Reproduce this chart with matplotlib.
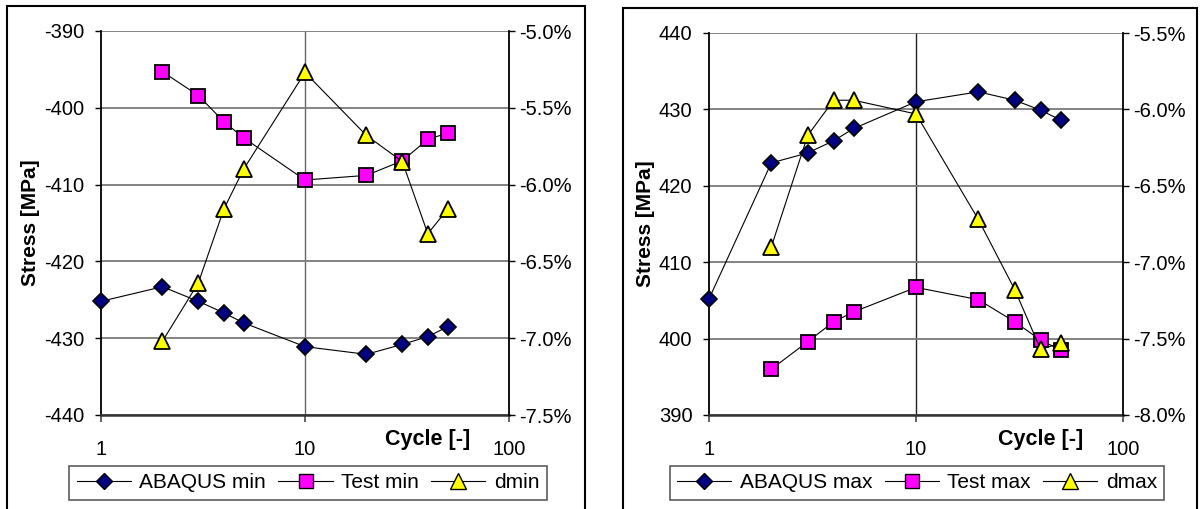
import numpy as np
import matplotlib
matplotlib.use('Agg')
import matplotlib.pyplot as plt
from matplotlib.ticker import FixedLocator, FuncFormatter
from matplotlib.lines import Line2D
from matplotlib.patches import Rectangle

plt.rcParams['font.family'] = ['Liberation Sans', 'DejaVu Sans']

# data
cycles = [1, 2, 3, 4, 5, 10, 20, 30, 40, 50]
cycles_test = [2, 3, 4, 5, 10, 20, 30, 40, 50]

abaqus_min = [-425.2, -423.3, -425.2, -426.7, -428.0, -431.1, -432.1, -430.8, -429.8, -428.5]
test_min = [-395.3, -398.4, -401.8, -403.9, -409.4, -408.8, -406.9, -404.1, -403.3]
d_min = [-7.02, -6.64, -6.16, -5.90, -5.27, -5.68, -5.85, -6.32, -6.16]

abaqus_max = [405.2, 423.0, 424.3, 425.9, 427.5, 431.0, 432.3, 431.2, 429.9, 428.6]
test_max = [396.0, 399.6, 402.2, 403.5, 406.7, 405.1, 402.2, 399.8, 398.5]
d_max = [-6.90, -6.17, -5.94, -5.94, -6.03, -6.72, -7.18, -7.57, -7.53]

W, H = 1203, 509


def draw_panel(fig, rect, ab, te, dd, ylim, yticks, plim, pticks, names, vcol, leg_x):
    ax = fig.add_axes(rect)
    ax.set_xscale('log')
    ax.set_xlim(1, 100)
    ax.set_ylim(*ylim)
    ax.yaxis.set_major_locator(FixedLocator(yticks))
    ax.xaxis.set_major_locator(FixedLocator([1, 10, 100]))
    ax.xaxis.set_minor_locator(FixedLocator([]))
    ax.xaxis.set_major_formatter(FuncFormatter(lambda v, p: '%d' % v))
    ax.yaxis.set_major_formatter(FuncFormatter(lambda v, p: '%d' % v))
    ax.grid(axis='y', color='#7a7a7a', linewidth=1.3)
    ax.axvline(10, color=vcol, linewidth=1.0, zorder=1)
    ax.tick_params(axis='y', direction='out', length=4, width=1, labelsize=14.5, pad=8)
    ax.tick_params(axis='x', direction='out', length=5, width=1.3, labelsize=14.5, pad=13,
                   color='#555555')
    ax.spines['top'].set_visible(False)
    ax.spines['right'].set_visible(False)
    ax.spines['left'].set_linewidth(1.3)
    ax.spines['bottom'].set_linewidth(1.8)
    ax.spines['bottom'].set_color('#333333')
    ax.set_ylabel('Stress [MPa]', fontsize=15, fontweight='bold', labelpad=3)
    ax.text(0.8, -0.065, 'Cycle [-]', transform=ax.transAxes, fontsize=15.5,
            fontweight='bold', ha='center', va='center')

    ax.plot(cycles, ab, color='black', linewidth=0.8, marker='D', markersize=8.5,
            markerfacecolor='#000080', markeredgecolor='black', markeredgewidth=1.2,
            zorder=3, clip_on=False)
    ax.plot(cycles_test, te, color='black', linewidth=0.8, marker='s', markersize=9.5,
            markerfacecolor='#ff00ff', markeredgecolor='black', markeredgewidth=1.3,
            zorder=3, clip_on=False)

    ax2 = ax.twinx()
    ax2.set_ylim(*plim)
    ax2.yaxis.set_major_locator(FixedLocator(pticks))
    ax2.yaxis.set_major_formatter(FuncFormatter(lambda v, p: '%.1f%%' % v))
    ax2.tick_params(axis='y', direction='out', length=4, width=1, labelsize=14.5, pad=3)
    ax2.spines['top'].set_visible(False)
    ax2.spines['left'].set_visible(False)
    ax2.spines['bottom'].set_visible(False)
    ax2.spines['right'].set_linewidth(1.3)
    ax2.plot(cycles_test, dd, color='black', linewidth=0.8, marker='^', markersize=11.5,
             markerfacecolor='#ffff00', markeredgecolor='black', markeredgewidth=1.3,
             zorder=3, clip_on=False)

    # legend
    hs = [Line2D([], [], color='black', linewidth=0.8, marker='D', markersize=8.5,
                 markerfacecolor='#000080', markeredgecolor='black'),
          Line2D([], [], color='black', linewidth=0.8, marker='s', markersize=9.5,
                 markerfacecolor='#ff00ff', markeredgecolor='black'),
          Line2D([], [], color='black', linewidth=0.8, marker='^', markersize=11.5,
                 markerfacecolor='#ffff00', markeredgecolor='black')]
    leg = fig.legend(hs, names, loc='center', bbox_to_anchor=(leg_x, 1 - 483 / H),
                     ncol=3, fontsize=15, frameon=True, fancybox=False,
                     handlelength=2.6, handletextpad=0.4, columnspacing=0.6,
                     borderpad=0.35, edgecolor='#333333')
    leg.get_frame().set_linewidth(1.2)
    return ax


fig = plt.figure(figsize=(W / 100, H / 100), dpi=100)

# panel frames
fig.patches.append(Rectangle((7 / W, -0.05), (585 - 7) / W, 1 - 6 / H + 0.05,
                             transform=fig.transFigure, fill=False,
                             edgecolor='black', linewidth=1.5))
fig.patches.append(Rectangle((623 / W, -0.05), (1197 - 623) / W, 1 - 8 / H + 0.05,
                             transform=fig.transFigure, fill=False,
                             edgecolor='black', linewidth=1.5))

draw_panel(fig, [101 / W, 1 - 415 / H, 408 / W, 384 / H],
           abaqus_min, test_min, d_min,
           (-440, -390), [-440, -430, -420, -410, -400, -390],
           (-7.5, -5.0), [-7.5, -7.0, -6.5, -6.0, -5.5, -5.0],
           ['ABAQUS min', 'Test min', 'dmin'], '#666666', 308 / W)

draw_panel(fig, [709 / W, 1 - 415 / H, 414 / W, 382 / H],
           abaqus_max, test_max, d_max,
           (390, 440), [390, 400, 410, 420, 430, 440],
           (-8.0, -5.5), [-8.0, -7.5, -7.0, -6.5, -6.0, -5.5],
           ['ABAQUS max', 'Test max', 'dmax'], '#222222', 917 / W)

fig.savefig('out.png', dpi=100)
